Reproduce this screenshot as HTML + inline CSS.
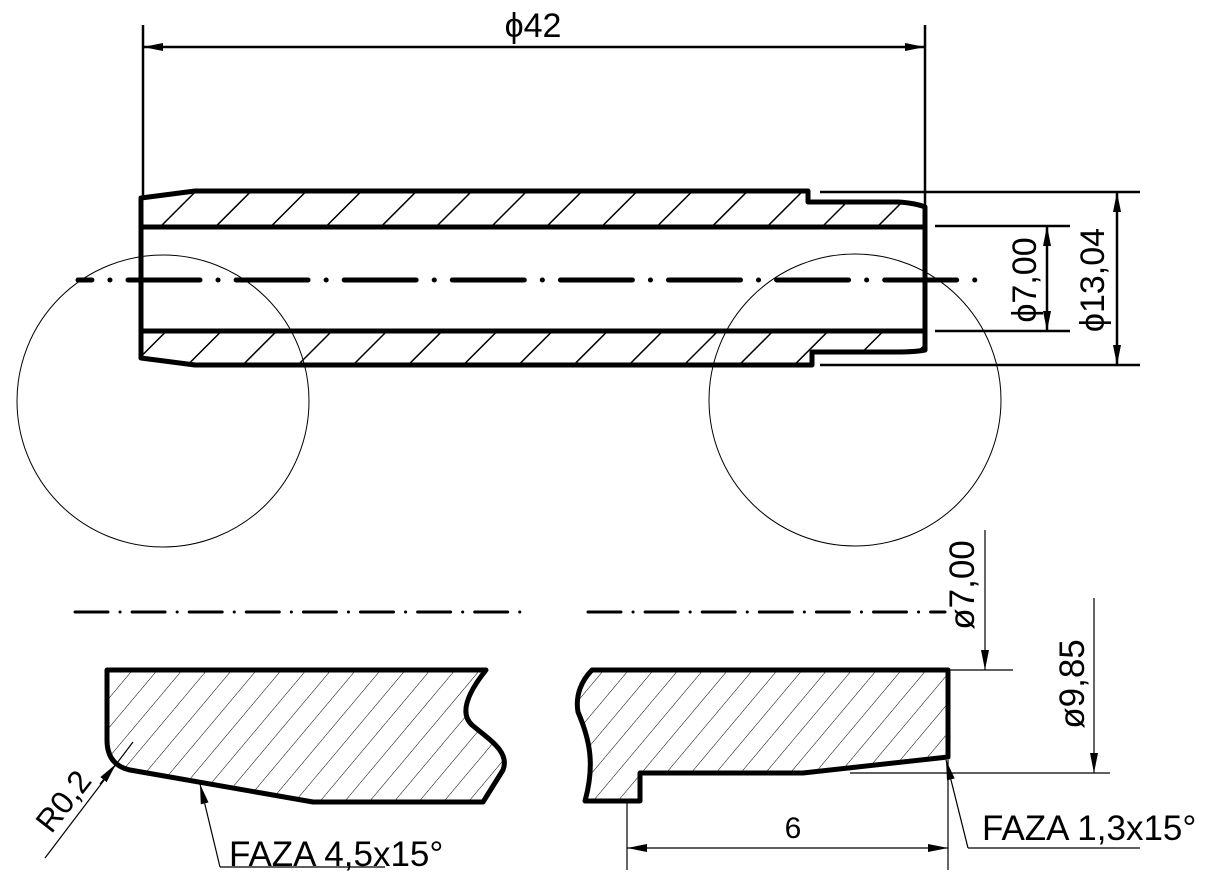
<!DOCTYPE html>
<html><head><meta charset="utf-8"><style>
html,body{margin:0;padding:0;background:#fff;}
svg{display:block;}
text{font-family:"Liberation Sans",sans-serif;fill:#000;}
</style></head><body>
<svg width="1212" height="884" viewBox="0 0 1212 884" xmlns="http://www.w3.org/2000/svg">
<defs>
<pattern id="h1" patternUnits="userSpaceOnUse" width="39" height="39" patternTransform="rotate(45)">
<line x1="0" y1="0" x2="0" y2="39" stroke="#000" stroke-width="3"/></pattern>
<pattern id="h2" patternUnits="userSpaceOnUse" width="19" height="19" patternTransform="rotate(40)">
<line x1="0" y1="0" x2="0" y2="19" stroke="#000" stroke-width="1"/></pattern>
<marker id="a" viewBox="0 0 20 8" refX="20" refY="4" markerWidth="20" markerHeight="8" markerUnits="userSpaceOnUse" orient="auto"><path d="M0,0 L20,4 L0,8 Z" fill="#000"/></marker>
<marker id="as" viewBox="0 0 20 8" refX="0" refY="4" markerWidth="20" markerHeight="8" markerUnits="userSpaceOnUse" orient="auto"><path d="M20,0 L0,4 L20,8 Z" fill="#000"/></marker>
</defs>
<g fill="none" stroke="#000">
<circle cx="163" cy="401" r="146" stroke-width="1"/>
<circle cx="855" cy="400" r="146" stroke-width="1"/>
</g>
<path d="M141,198 L195,191 L808,191 L808,202 L898,202 Q915,203 925,207 L925,227 L141,227 Z" fill="url(#h1)" stroke="none"/>
<path d="M141,331 L925,331 L925,350 Q915,352 897,352 L812,352 L812,365 L195,365 L141,358 Z" fill="url(#h1)" stroke="none"/>
<g fill="none" stroke="#000" stroke-width="5" stroke-linejoin="round">
<path d="M141,198 L195,191 L808,191 L808,202 L898,202 Q915,203 925,207 L925,350 Q915,352 897,352 L812,352 L812,365 L195,365 L141,358 Z"/>
<line x1="141" y1="227" x2="925" y2="227"/>
<line x1="141" y1="331" x2="925" y2="331"/>
</g>
<line x1="78" y1="280" x2="990" y2="280" stroke="#000" stroke-width="5" stroke-linecap="round" stroke-dasharray="72 18 0.1 18" stroke-dashoffset="-50"/>
<g stroke="#000" fill="none">
<line x1="143" y1="25" x2="143" y2="198" stroke-width="2.5"/>
<line x1="925" y1="25" x2="925" y2="207" stroke-width="2.5"/>
<line x1="143" y1="47" x2="925" y2="47" stroke-width="2.5" marker-start="url(#as)" marker-end="url(#a)"/>
<line x1="820" y1="192" x2="1140" y2="192" stroke-width="2.5"/>
<line x1="820" y1="365" x2="1140" y2="365" stroke-width="2.5"/>
<line x1="935" y1="226" x2="1070" y2="226" stroke-width="2.5"/>
<line x1="935" y1="331" x2="1070" y2="331" stroke-width="2.5"/>
<line x1="1047" y1="226" x2="1047" y2="331" stroke-width="2.5" marker-start="url(#as)" marker-end="url(#a)"/>
<line x1="1117" y1="192" x2="1117" y2="365" stroke-width="2.5" marker-start="url(#as)" marker-end="url(#a)"/>
</g>
<text x="533" y="37" font-size="34" text-anchor="middle">ϕ42</text>
<text transform="translate(1036,280) rotate(-90)" font-size="34" text-anchor="middle">ϕ7,00</text>
<text transform="translate(1104,280) rotate(-90)" font-size="34" text-anchor="middle">ϕ13,04</text>

<line x1="75" y1="612" x2="527" y2="612" stroke="#000" stroke-width="3" stroke-linecap="round" stroke-dasharray="33 12 0.1 12"/>
<line x1="588" y1="612" x2="945" y2="612" stroke="#000" stroke-width="3" stroke-linecap="round" stroke-dasharray="33 12 0.1 12"/>

<path d="M107,670 L486,670 C470,690 458,712 472,725 C490,740 510,752 503,770 L483,802 L313,802 L130,770 Q107,765 107,740 Z" fill="url(#h2)" stroke="#000" stroke-width="5" stroke-linejoin="round"/>
<path d="M592,670 L948,670 L948,757 L803,773 L640,773 L640,801 L585,801 C595,765 590,740 578,712 C575,695 582,680 592,670 Z" fill="url(#h2)" stroke="#000" stroke-width="5" stroke-linejoin="round"/>

<g stroke="#000" fill="none" stroke-width="1.2">
<line x1="45" y1="858" x2="133" y2="742"/>
<line x1="200" y1="784" x2="220" y2="867" marker-start="url(#as)"/>
<line x1="220" y1="867" x2="385" y2="867"/>
<line x1="985" y1="530" x2="985" y2="670" marker-end="url(#a)"/>
<line x1="948" y1="670" x2="1013" y2="670"/>
<line x1="1094" y1="598" x2="1094" y2="773" marker-end="url(#a)"/>
<line x1="850" y1="773" x2="1110" y2="773"/>
<line x1="627" y1="801" x2="627" y2="870"/>
<line x1="948" y1="760" x2="948" y2="870"/>
<line x1="627" y1="848" x2="948" y2="848" marker-start="url(#as)" marker-end="url(#a)"/>
<line x1="946" y1="760" x2="968" y2="848" marker-start="url(#as)"/>
<line x1="968" y1="848" x2="1140" y2="848"/>
</g>
<line x1="100" y1="784" x2="116" y2="764" stroke="#000" stroke-width="1.2" marker-end="url(#a)"/>
<text transform="translate(72,808) rotate(-52)" font-size="32" text-anchor="middle">R0,2</text>
<text x="229" y="866" font-size="35">FAZA 4,5x15°</text>
<text x="982" y="840" font-size="35">FAZA 1,3x15°</text>
<text transform="translate(974,585) rotate(-90)" font-size="35" text-anchor="middle">ø7,00</text>
<text transform="translate(1084,684) rotate(-90)" font-size="35" text-anchor="middle">ø9,85</text>
<text x="793" y="838" font-size="30" text-anchor="middle">6</text>
</svg>
</body></html>
